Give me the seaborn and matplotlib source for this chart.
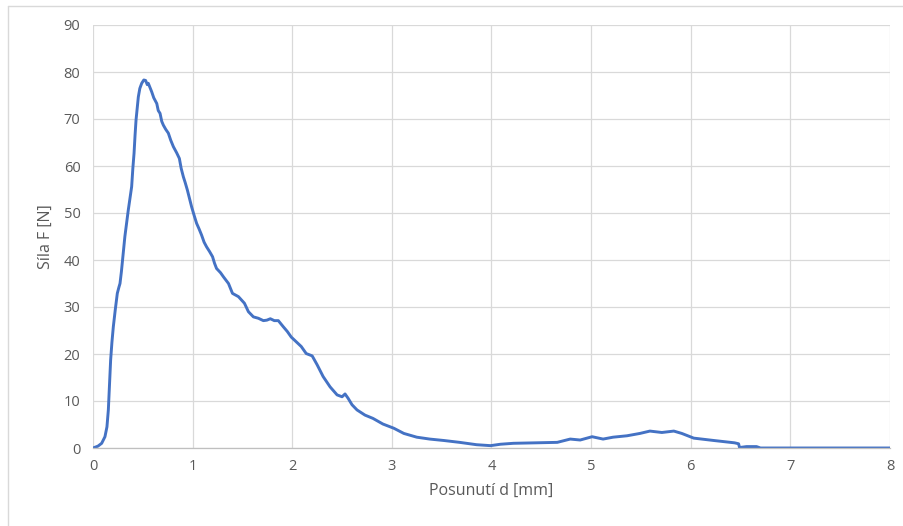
import numpy as np
import pandas as pd
import matplotlib
matplotlib.use("Agg")
import matplotlib.pyplot as plt
import seaborn as sns
from matplotlib.lines import Line2D

# Data
d_mm = [0.0, 0.05, 0.087, 0.12, 0.14, 0.154, 0.165, 0.177, 0.19, 0.204, 0.224, 0.244, 0.26, 0.271,
        0.285, 0.297, 0.31, 0.32, 0.337, 0.354, 0.37, 0.388, 0.40, 0.412, 0.422, 0.432, 0.445,
        0.455, 0.47, 0.489, 0.51, 0.528, 0.545, 0.555, 0.57, 0.589, 0.61, 0.64, 0.655, 0.673,
        0.69, 0.706, 0.73, 0.756, 0.78, 0.807, 0.84, 0.867, 0.885, 0.907, 0.925, 0.947, 0.97,
        0.99, 1.015, 1.04, 1.065, 1.09, 1.115, 1.14, 1.17, 1.2, 1.22, 1.24, 1.28, 1.31, 1.36,
        1.40, 1.46, 1.52, 1.56, 1.61, 1.66, 1.71, 1.745, 1.78, 1.82, 1.86, 1.91, 1.95, 1.99,
        2.04, 2.09, 2.14, 2.2, 2.25, 2.31, 2.38, 2.45, 2.50, 2.53, 2.56, 2.60, 2.65, 2.73, 2.81,
        2.91, 3.02, 3.12, 3.25, 3.38, 3.52, 3.68, 3.85, 3.99, 4.09, 4.22, 4.45, 4.66, 4.79, 4.89,
        5.01, 5.12, 5.22, 5.36, 5.49, 5.59, 5.71, 5.83, 5.91, 6.03, 6.23, 6.44, 6.48, 6.49, 6.56,
        6.66, 6.70, 7.0, 7.5, 8.0]
F_N = [0.0, 0.4, 1.0, 2.4, 4.5, 8.1, 13.0, 18.7, 22.5, 25.8, 29.5, 32.9, 34.2, 35.0,
       37.5, 40.0, 42.8, 45.0, 47.8, 50.6, 53.0, 55.6, 59.5, 62.7, 66.5, 69.8, 72.5,
       74.7, 76.5, 77.6, 78.3, 78.2, 77.3, 77.6, 76.8, 75.8, 74.5, 73.3, 71.8, 71.2,
       69.5, 68.7, 67.8, 67.0, 65.5, 64.1, 62.8, 61.6, 59.5, 57.7, 56.5, 54.9, 53.0,
       51.3, 49.5, 47.8, 46.6, 45.3, 43.8, 42.8, 41.8, 40.7, 39.3, 38.2, 37.3, 36.4, 35.0,
       32.9, 32.2, 30.8, 29.0, 27.9, 27.6, 27.1, 27.2, 27.5, 27.1, 27.1, 25.8, 24.8, 23.6,
       22.6, 21.6, 20.1, 19.6, 17.7, 15.2, 13.0, 11.3, 10.9, 11.5, 10.6, 9.2, 8.1, 7.0, 6.3,
       5.1, 4.2, 3.1, 2.3, 1.9, 1.6, 1.2, 0.7, 0.5, 0.8, 1.0, 1.1, 1.2, 1.9, 1.7,
       2.4, 1.9, 2.3, 2.6, 3.1, 3.6, 3.3, 3.6, 3.1, 2.1, 1.6, 1.1, 0.9, 0.1, 0.3,
       0.3, 0.0, 0.0, 0.0, 0.0]

x_ticks = [0, 1, 2, 3, 4, 5, 6, 7, 8]
y_ticks = [0, 10, 20, 30, 40, 50, 60, 70, 80, 90]
x_label = "Posunutí d [mm]"
y_label = "Síla F [N]"

df = pd.DataFrame({"d": d_mm, "F": F_N})

sns.set_theme(style="white")
plt.rcParams['font.family'] = ['Open Sans', 'DejaVu Sans']

fig = plt.figure(figsize=(9.04, 5.26), dpi=100)
ax = fig.add_axes([93/904, 1 - 448/526, (890-93)/904, (448-25)/526])

sns.lineplot(data=df, x="d", y="F", ax=ax, color="#4472C4", linewidth=2.1, sort=False)

ax.set_xlim(0, 8)
ax.set_ylim(0, 90)
ax.set_xticks(x_ticks)
ax.set_yticks(y_ticks)
ax.set_xticklabels([str(t) for t in x_ticks])
ax.set_yticklabels([str(t) for t in y_ticks])
ax.grid(True, color="#D9D9D9", linewidth=0.9)
ax.set_axisbelow(True)
for s in ["top", "right", "left"]:
    ax.spines[s].set_visible(False)
ax.spines["bottom"].set_color("#BFBFBF")
ax.spines["bottom"].set_linewidth(0.9)
ax.tick_params(axis="both", length=0, labelsize=10.5, labelcolor="#595959")
ax.tick_params(axis="x", pad=8)
ax.tick_params(axis="y", pad=9)
ax.set_xlabel(x_label, fontsize=11.5, color="#595959", labelpad=6)
ax.set_ylabel(y_label, fontsize=11.5, color="#595959", labelpad=7)

# Chart-area frame (top and left edges visible)
fig.add_artist(Line2D([8/904, 8/904], [0, 1 - 6/526], transform=fig.transFigure,
                      color="#D9D9D9", linewidth=1.0))
fig.add_artist(Line2D([8/904, 1], [1 - 6/526, 1 - 6/526], transform=fig.transFigure,
                      color="#D9D9D9", linewidth=1.0))

fig.savefig("out.png", dpi=100, facecolor="white")
